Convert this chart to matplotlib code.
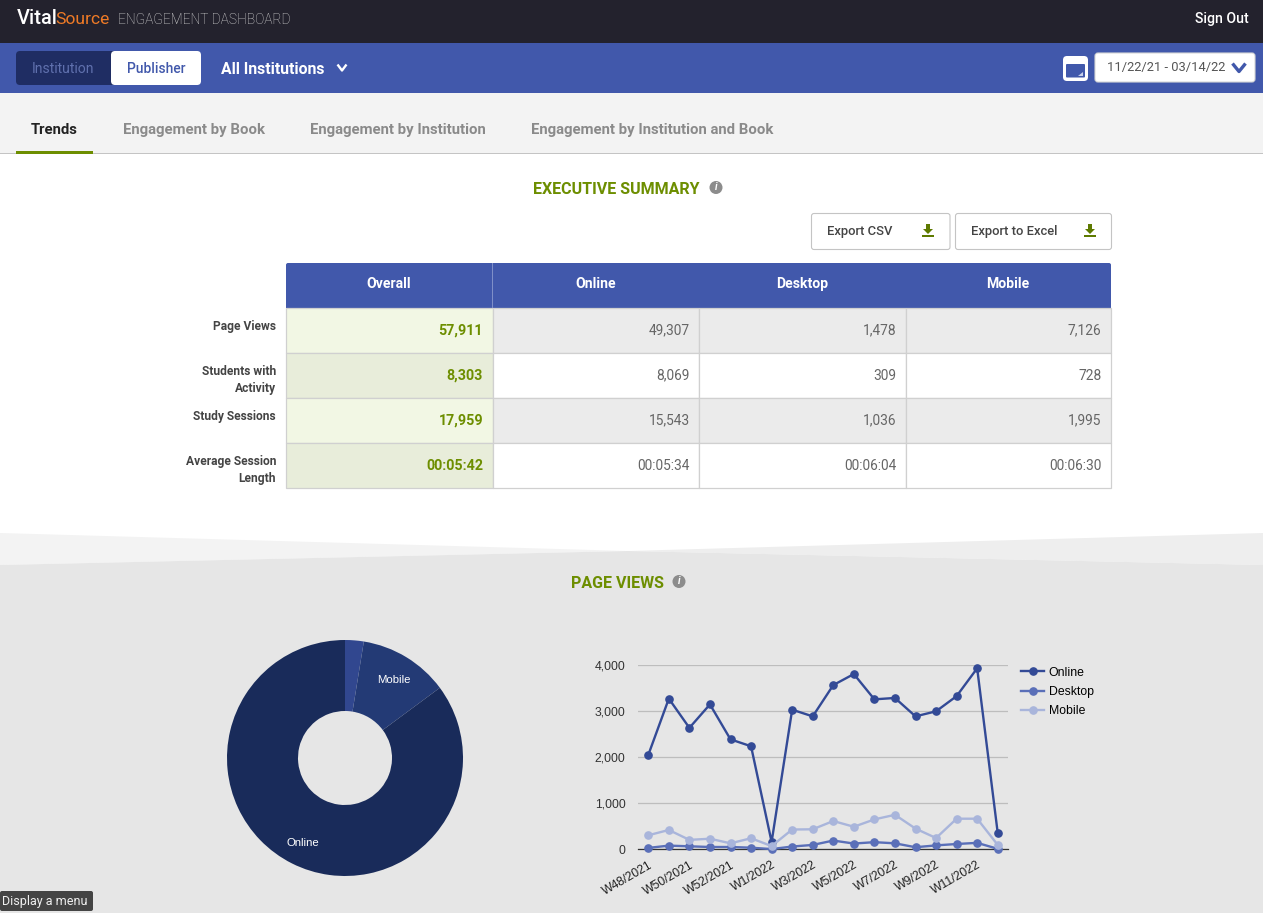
import matplotlib
matplotlib.use('Agg')
import matplotlib.pyplot as plt
from matplotlib.patches import Rectangle, FancyBboxPatch, Polygon, Circle

W, H = 1263, 913

# table data
columns = ['Overall', 'Online', 'Desktop', 'Mobile']
row_names = ['Page Views', 'Students with\nActivity', 'Study Sessions', 'Average Session\nLength']
overall = ['57,911', '8,303', '17,959', '00:05:42']
online = ['49,307', '8,069', '15,543', '00:05:34']
desktop = ['1,478', '309', '1,036', '00:06:04']
mobile = ['7,126', '728', '1,995', '00:06:30']

# donut data
pie_labels = ['', 'Mobile', 'Online']
pie_values = [1478, 7126, 49307]

# line chart data
weeks = ['W48/2021', 'W49/2021', 'W50/2021', 'W51/2021', 'W52/2021', 'W53/2021', 'W1/2022', 'W2/2022', 'W3/2022',
         'W4/2022', 'W5/2022', 'W6/2022', 'W7/2022', 'W8/2022', 'W9/2022', 'W10/2022', 'W11/2022', 'W12/2022']
online_views = [2050, 3275, 2640, 3150, 2390, 2240, 160, 3035, 2890, 3570, 3810, 3260, 3290, 2890, 3000, 3330, 3935, 355]
desktop_views = [30, 80, 65, 50, 50, 35, 5, 60, 95, 190, 125, 155, 130, 45, 85, 115, 140, 10]
mobile_views = [305, 420, 205, 230, 130, 240, 70, 430, 435, 615, 490, 650, 750, 450, 245, 665, 665, 95]

BLUE = '#4158ab'
GREEN = '#6d8e00'
GRAY_BG = '#e6e6e6'

plt.rcParams['font.family'] = ['Roboto', 'DejaVu Sans']

fig = plt.figure(figsize=(W/100, H/100), dpi=100, facecolor='white')
bg = fig.add_axes([0, 0, 1, 1])
bg.set_xlim(0, W)
bg.set_ylim(H, 0)
bg.axis('off')


def rect(x0, y0, x1, y1, color, **kw):
    bg.add_patch(Rectangle((x0, y0), x1-x0, y1-y0, facecolor=color, edgecolor='none', **kw))


def rbox(x0, y0, x1, y1, face, edge='none', r=4, lw=0.8, z=2):
    bg.add_patch(FancyBboxPatch((x0+r, y0+r), x1-x0-2*r, y1-y0-2*r, boxstyle='round,pad=%g,rounding_size=%g' % (r, r),
                                facecolor=face, edgecolor=edge, linewidth=lw, zorder=z))


def txt(x, y, s, px=14, color='black', weight='normal', ha='left', **kw):
    return bg.text(x, y+1, s, fontsize=px*0.72, color=color, fontweight=weight, ha=ha, va='center', zorder=6, **kw)


def chevron(x, y, w, h, color, lw):
    bg.plot([x-w, x, x+w], [y-h, y+h, y-h], color=color, lw=lw, zorder=5, solid_capstyle='butt')


def download(x, y):
    bg.add_patch(Polygon([(x-2, y-7), (x+2, y-7), (x+2, y-2), (x+5, y-2), (x, y+3), (x-5, y-2), (x-2, y-2)],
                         facecolor='#5e7a00', edgecolor='none', zorder=5))
    rect(x-6, y+4, x+6, y+6.5, '#5e7a00', zorder=5)


def info(x, y):
    bg.add_patch(Circle((x, y), 6.5, facecolor='#8c8c8c', edgecolor='none', zorder=5))
    txt(x, y-1, 'i', px=10, color='white', weight='bold', ha='center', style='italic')


# header bars
rect(0, 0, W, 43, '#23222d')
rect(0, 43, W, 93, BLUE)
rect(0, 93, W, 153, '#f3f3f3')
rect(0, 153, W, 154, '#c4c4c4')
rect(16, 151, 93, 154, '#6d8e00', zorder=3)

txt(17, 18, 'Vital', px=20, color='white', weight='medium')
txt(55, 18, 'Source', px=17.5, color='#ee7a26')
txt(118, 18.5, 'ENGAGEMENT DASHBOARD', px=13.8, color='#d8d8d8', weight='light')
txt(1249, 18, 'Sign Out', px=14, color='white', weight='medium', ha='right')

rbox(16, 51, 130, 85, '#1f2d63', r=4)
rbox(111, 51, 201, 85, 'white', r=4, z=3)
txt(63, 68, 'Institution', px=14, color='#5f70ad', ha='center')
txt(156, 68, 'Publisher', px=13.8, color=BLUE, ha='center', weight='medium')
txt(221, 68, 'All Institutions', px=15.8, color='white', weight='bold')
chevron(342, 67.5, 4.5, 3, 'white', 1.7)

# calendar icon and date picker
rbox(1063, 56, 1088, 81, 'white', r=4)
rbox(1066, 64, 1085, 77.5, BLUE, r=1, z=4)
bg.add_patch(Polygon([(1083, 72), (1083, 76), (1078, 76)], facecolor='#c8d0ea', edgecolor='none', zorder=5))
rbox(1095, 53, 1255, 82, 'white', edge='#d6d6d6', r=3)
txt(1166, 67, '11/22/21 - 03/14/22', px=12.9, color='#555555', ha='center')
chevron(1239, 67.5, 6.5, 4, BLUE, 2.4)

# tabs
tabs = [('Trends', 31, '#222222'), ('Engagement by Book', 123, '#8a8a8a'),
        ('Engagement by Institution', 310, '#8a8a8a'), ('Engagement by Institution and Book', 531, '#8a8a8a')]
for name, x, c in tabs:
    txt(x, 129, name, px=14.9, color=c, weight='bold')

# executive summary
txt(533, 188.5, 'EXECUTIVE SUMMARY', px=16, color=GREEN, weight='bold')
info(716, 187.5)
for x0, x1, label, lx, ix in [(811.5, 950, 'Export CSV', 827, 928), (955.5, 1111.5, 'Export to Excel', 971, 1090)]:
    rbox(x0, 213.5, x1, 249.5, 'white', edge='#c4c4c4', r=2.5)
    txt(lx, 231, label, px=13, color='#444444', weight='medium')
    download(ix, 231)

# table
col_x = [286, 493, 699, 906, 1111]
row_y = [308, 353, 398, 443, 488]
col_values = [overall, online, desktop, mobile]
header_x = [389, 596, 802, 1008]
rbox(286, 263, 1111, 308, BLUE, r=2)
rect(286, 300, 1111, 308, BLUE, zorder=2)
rect(492, 263, 493, 308, '#7f8fc8', zorder=3)
for c, name in enumerate(columns):
    txt(header_x[c], 283, name, px=14, color='white', weight='bold', ha='center')
for r in range(4):
    y0, y1 = row_y[r], row_y[r+1]
    txt(276, (y0+17.5) if '\n' not in row_names[r] else y0+26, row_names[r], px=12, color='#444444',
        weight='bold', ha='right', linespacing=1.4)
    for c in range(4):
        if c == 0:
            face = '#f2f7e4' if r % 2 == 0 else '#e8edda'
        else:
            face = '#ebebeb' if r % 2 == 0 else 'white'
        bg.add_patch(Rectangle((col_x[c], y0), col_x[c+1]-col_x[c], y1-y0, facecolor=face, edgecolor='#d0d0d0',
                               linewidth=0.9, zorder=2))
        if c == 0:
            txt(col_x[c+1]-10, y0+21.5, col_values[c][r], px=14.3, color=GREEN, weight='bold', ha='right')
        else:
            txt(col_x[c+1]-9.5, y0+21.5, col_values[c][r], px=13.8, color='#666666', ha='right')

# slanted section background
bg.add_patch(Polygon([(0, 533), (628, 551), (0, 565)], facecolor='#f3f3f3', edgecolor='none'))
bg.add_patch(Polygon([(W, 533), (628, 551), (W, 565)], facecolor='#eeeeee', edgecolor='none'))
bg.add_patch(Polygon([(0, 565), (628, 551), (W, 565), (W, H), (0, H)], facecolor=GRAY_BG, edgecolor='none'))

txt(571, 582.5, 'PAGE VIEWS', px=16, color=GREEN, weight='bold')
info(679, 581.5)

# donut
cx, cy, rad = 345, 758, 118
ax_pie = fig.add_axes([(cx-rad)/W, 1-(cy+rad)/H, 2*rad/W, 2*rad/H])
wedges, texts = ax_pie.pie(pie_values, labels=pie_labels, colors=['#31478f', '#233a75', '#192b5a'], startangle=90,
                           counterclock=False, labeldistance=0.79, radius=1,
                           wedgeprops={'width': 71/118, 'linewidth': 0},
                           textprops={'color': 'white', 'fontsize': 8.2, 'family': ['Liberation Sans']})
for t in texts:
    t.set_ha('center')
    t.set_va('center')
    lx, ly = t.get_position()
    t.set_position((lx, ly-0.015))
ax_pie.set_xlim(-1, 1)
ax_pie.set_ylim(-1, 1)

# line chart
left, right, top, bottom = 638, 1008, 665.3, 849.3
ax = fig.add_axes([left/W, 1-bottom/H, (right-left)/W, (bottom-top)/H])
ax.patch.set_alpha(0)
x = range(len(weeks))
ax.plot(x, online_views, '-o', color='#334a96', lw=1.7, ms=5.2, label='Online', clip_on=False, zorder=3)
ax.plot(x, desktop_views, '-o', color='#5a6fb8', lw=1.7, ms=5.2, label='Desktop', clip_on=False, zorder=3)
ax.plot(x, mobile_views, '-o', color='#a9b5db', lw=1.7, ms=5.2, label='Mobile', clip_on=False, zorder=3)
ax.set_xlim(-0.5, len(weeks)-0.5)
ax.set_ylim(0, 4000)
ax.set_yticks([0, 1000, 2000, 3000, 4000])
ax.set_yticklabels(['0', '1,000', '2,000', '3,000', '4,000'], fontsize=8.8, family=['Liberation Sans'], color='#333333')
ax.set_xticks(list(x)[::2])
ax.set_xticklabels(weeks[::2], fontsize=8.8, family=['Liberation Sans'], color='#222222', rotation=30, ha='right',
                   rotation_mode='anchor')
ax.tick_params(length=0, axis='both')
ax.tick_params(axis='y', pad=9)
ax.tick_params(axis='x', pad=7)
ax.grid(axis='y', color='#bdbdbd', lw=0.9)
ax.set_axisbelow(True)
for s in ['top', 'left', 'right']:
    ax.spines[s].set_visible(False)
ax.spines['bottom'].set_color('#333333')
ax.spines['bottom'].set_linewidth(0.9)
ax.legend(loc='upper left', bbox_to_anchor=((1021-left)/(right-left), 0.993), frameon=False,
          prop={'family': ['Liberation Sans'], 'size': 8.8}, handlelength=1.9, labelspacing=0.6,
          handletextpad=0.38, borderpad=0, borderaxespad=0)

# tooltip
rbox(0, 891, 93, 911, '#444444', r=2)
txt(2, 900.5, 'Display a menu', px=12.5, color='#f0f0f0')

fig.savefig('out.png', dpi=100)
plt.close()
